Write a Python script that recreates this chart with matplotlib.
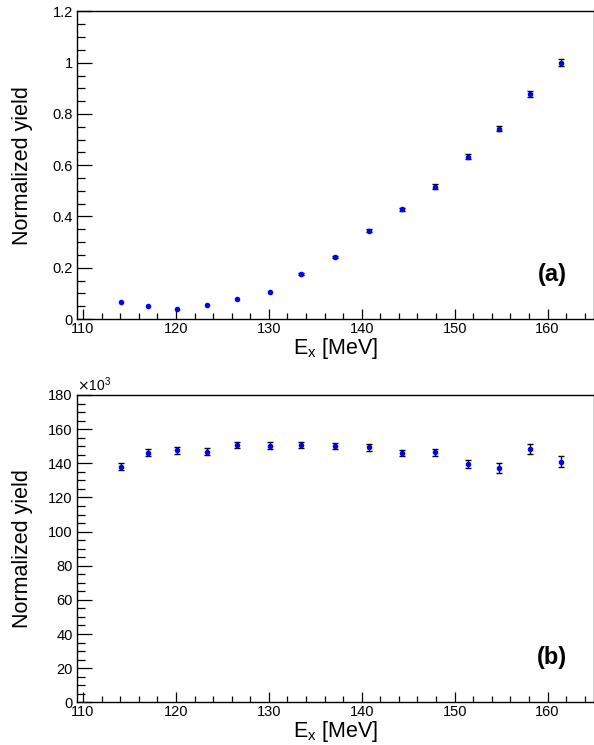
import numpy as np
import matplotlib
matplotlib.use("Agg")
import matplotlib.pyplot as plt
from matplotlib.ticker import MultipleLocator, FuncFormatter

plt.rcParams['font.family'] = ['Liberation Sans', 'DejaVu Sans']

# excitation energy bins [MeV]
ex = [114.1, 117.0, 120.1, 123.3, 126.6, 130.1, 133.5, 137.15,
      140.75, 144.3, 147.9, 151.4, 154.8, 158.1, 161.4]

# panel (a): normalized yield
yield_a = [0.066, 0.049, 0.038, 0.055, 0.079, 0.105, 0.174, 0.242,
           0.344, 0.428, 0.517, 0.634, 0.742, 0.878, 1.0]
err_a = [0.002, 0.002, 0.002, 0.002, 0.002, 0.003, 0.004, 0.005,
         0.006, 0.007, 0.008, 0.009, 0.010, 0.011, 0.013]

# panel (b): normalized yield, in units of 10^3
yield_b = [138.0, 146.2, 147.6, 146.8, 150.7, 150.3, 150.7, 150.1,
           149.3, 146.0, 146.4, 139.6, 137.2, 148.4, 140.9]
err_b = [2.0, 2.0, 2.0, 2.0, 2.0, 2.0, 2.0, 2.0,
         2.0, 2.0, 2.0, 2.5, 2.7, 3.1, 3.2]


def draw_points(ax, x, y, err, min_err):
    # like ROOT: error bars smaller than the marker are not drawn
    x, y, err = np.array(x), np.array(y), np.array(err)
    big = err >= min_err
    ax.errorbar(x[big], y[big], yerr=err[big], fmt='o', color='blue', ms=3.0,
                ecolor='black', elinewidth=1.0, capsize=2.5, capthick=1.0)
    ax.plot(x[~big], y[~big], 'o', color='blue', ms=3.0, ls='none')


def style_axis(ax, ymax, ymajor, yminor):
    ax.set_xlim(109.35, 165.0)
    ax.set_ylim(0, ymax)
    ax.xaxis.set_major_locator(MultipleLocator(10))
    ax.xaxis.set_minor_locator(MultipleLocator(2))
    ax.yaxis.set_major_locator(MultipleLocator(ymajor))
    ax.yaxis.set_minor_locator(MultipleLocator(yminor))
    ax.tick_params(which='both', direction='in', labelsize=10.5, pad=3)
    ax.tick_params(axis='x', which='major', length=7.5, width=0.9)
    ax.tick_params(axis='x', which='minor', length=4, width=0.9)
    ax.tick_params(axis='y', which='major', length=11, width=0.9)
    ax.tick_params(axis='y', which='minor', length=5.7, width=0.9)
    ax.tick_params(axis='x', pad=2)
    for s in ax.spines.values():
        s.set_linewidth(1.0)
    ax.set_xlabel(r'E$_\mathregular{x}$ [MeV]', fontsize=15.5, labelpad=0)
    ax.set_ylabel('Normalized yield', fontsize=15.5)
    ax.yaxis.set_label_coords(-0.085, 0.5)


fig = plt.figure(figsize=(5.94, 7.45), dpi=100)
ax1 = fig.add_axes([0.1296, 0.5718, 0.8704, 0.4128])
ax2 = fig.add_axes([0.1296, 0.0573, 0.8704, 0.4125])

draw_points(ax1, ex, yield_a, err_a, 0.004)
style_axis(ax1, 1.2, 0.2, 0.05)
ax1.yaxis.set_major_formatter(FuncFormatter(lambda v, p: f'{v:g}'))
ax1.text(0.919, 0.172, '(a)', fontsize=17, fontweight='bold', ha='center',
         va='center', transform=ax1.get_yaxis_transform())

draw_points(ax2, ex, yield_b, err_b, 1.0)
style_axis(ax2, 180, 20, 5)
ax2.text(0.0, 1.003, r'$\times$10$^\mathregular{3}$', transform=ax2.transAxes,
         fontsize=10, ha='left', va='bottom')
ax2.text(0.919, 26.5, '(b)', fontsize=17, fontweight='bold', ha='center',
         va='center', transform=ax2.get_yaxis_transform())

fig.savefig('out.png', dpi=100)
